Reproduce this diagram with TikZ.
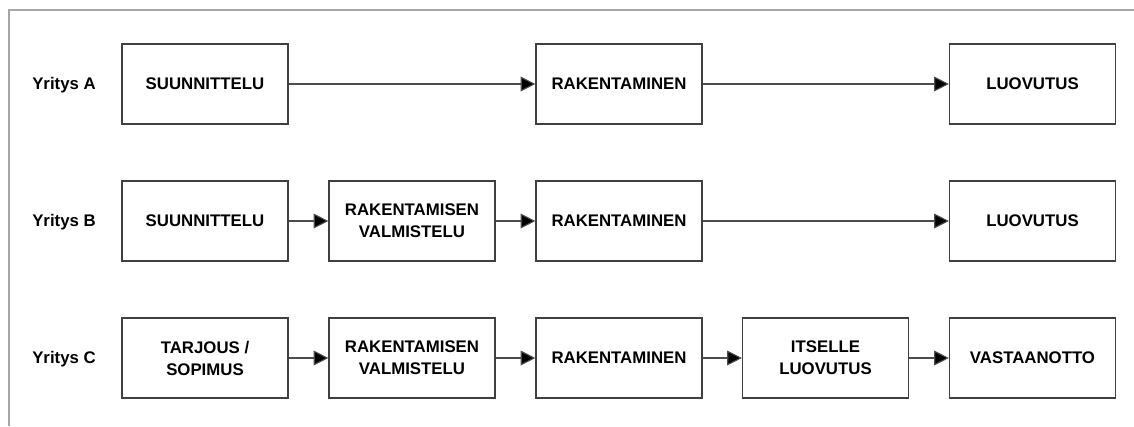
\documentclass[tikz,border=0pt]{standalone}
\usepackage{fontspec}
\setmainfont{Liberation Sans}
\usetikzlibrary{arrows.meta,positioning}

\begin{document}
\begin{tikzpicture}[
  x=0.75pt,
  y=-0.75pt,
  font=\bfseries\fontsize{12.6}{16.5}\selectfont,
  frame/.style={line width=1.4pt, gray!70},
  phase/.style={draw=black!75, line width=0.9pt, fill=white, minimum width=124.5pt,
    minimum height=60pt, align=center, inner sep=2pt},
  firm/.style={anchor=west, inner sep=0pt},
  flow/.style={-{Triangle[length=11pt,width=11pt,fill=black]}, line width=0.8pt, black!70}
]
\useasboundingbox (0,0) rectangle (1134,426);
\draw[frame] (1134,10) -- (9,10) -- (9,426);

% Yritys A
\node[firm] (fA) at (32,85) {Yritys A};
\node[phase] (a1) at (205,84) {SUUNNITTELU};
\node[phase] (a3) at (619,84) {RAKENTAMINEN};
\node[phase] (a5) at (1032.5,84) {LUOVUTUS};
\draw[flow] (a1) -- (a3);
\draw[flow] (a3) -- (a5);

% Yritys B
\node[firm] (fB) at (32,222) {Yritys B};
\node[phase] (b1) at (205,221) {SUUNNITTELU};
\node[phase] (b2) at (412,221) {RAKENTAMISEN\\VALMISTELU};
\node[phase] (b3) at (619,221) {RAKENTAMINEN};
\node[phase] (b5) at (1032.5,221) {LUOVUTUS};
\draw[flow] (b1) -- (b2);
\draw[flow] (b2) -- (b3);
\draw[flow] (b3) -- (b5);

% Yritys C
\node[firm] (fC) at (32,359) {Yritys C};
\node[phase] (c1) at (205,358) {TARJOUS /\\SOPIMUS};
\node[phase] (c2) at (412,358) {RAKENTAMISEN\\VALMISTELU};
\node[phase] (c3) at (619,358) {RAKENTAMINEN};
\node[phase] (c4) at (825.5,358) {ITSELLE\\LUOVUTUS};
\node[phase] (c5) at (1032.5,358) {VASTAANOTTO};
\draw[flow] (c1) -- (c2);
\draw[flow] (c2) -- (c3);
\draw[flow] (c3) -- (c4);
\draw[flow] (c4) -- (c5);
\end{tikzpicture}
\end{document}
